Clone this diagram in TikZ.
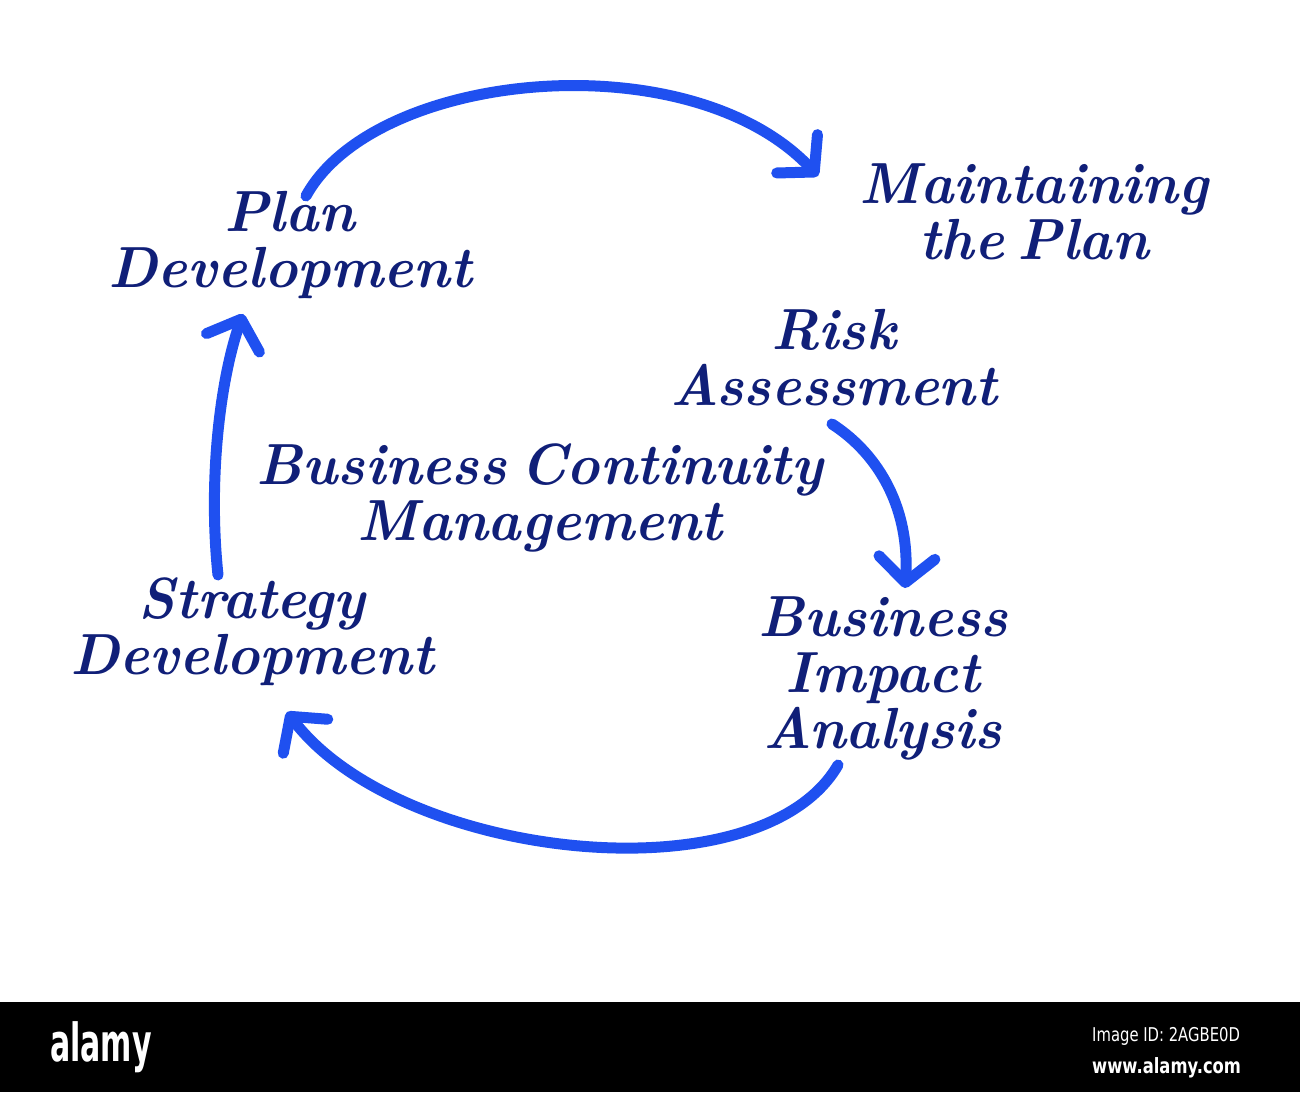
\documentclass[tikz,border=0pt]{standalone}
\usepackage{fontspec}
\usetikzlibrary{arrows.meta}
\setmainfont{Latin Modern Roman}
\newfontfamily\handfont{Latin Modern Roman}[FakeStretch=0.97, WordSpace=0.6]
\newfontfamily\wmfont{DejaVu Sans}
\definecolor{navy}{HTML}{101F78}
\definecolor{flowblue}{HTML}{1F50F0}
\tikzset{
  lbl/.style={text=navy, align=center, inner sep=0pt,
    font=\fontsize{58}{56}\handfont\bfseries\itshape},
  flow/.style={draw=flowblue, line width=11pt, line cap=round, line join=round,
    -{Straight Barb[length=25pt,width=56pt,round]}},
  wm/.style={text=white, inner sep=0pt, anchor=west}
}
\begin{document}
\begin{tikzpicture}[x=1pt,y=-1pt]
\useasboundingbox (0,0) rectangle (1300,1092);
\fill[white] (0,0) rectangle (1300,1092);
% watermark bar
\fill[black] (0,1002) rectangle (1300,1092);
\node[wm] (alamy) at (50,1047) {\scalebox{0.6}[1.05]{\fontsize{50}{50}\wmfont\bfseries alamy}};
\node[wm] (imgid) at (1092,1036) {\scalebox{0.78}[1]{\fontsize{19}{19}\wmfont Image ID: 2AGBE0D}};
\node[wm] (www) at (1092,1068) {\scalebox{0.78}[1]{\fontsize{21}{21}\wmfont\bfseries www.alamy.com}};
% labels
\node[lbl] (plan)  at (290,245) {Plan\\Development};
\node[lbl] (maint) at (1034,212) {Maintaining\\the Plan};
\node[lbl] (risk)  at (834,358) {Risk\\Assessment};
\node[lbl] (bcm)   at (540,498) {Business Continuity\\Management};
\node[lbl] (strat) at (252,632) {Strategy\\Development};
\node[lbl] (bia)   at (883,678) {Business\\Impact\\Analysis};
% connectors
\draw[flow] ([shift={(16,-49)}]plan.center) .. controls (375,70) and (690,40) .. ([shift={(-216,-36)}]maint.center);
\draw[flow] ([shift={(-2,66)}]risk.center) .. controls (880,455) and (910,510) .. ([shift={(22,-90)}]bia.center);
\draw[flow] ([shift={(-45,87)}]bia.center) .. controls (760,900) and (400,860) .. ([shift={(35,80)}]strat.center);
\draw[flow] ([shift={(-34,-57)}]strat.center) .. controls (208,480) and (220,380) .. ([shift={(-47,69)}]plan.center);
\end{tikzpicture}
\end{document}
